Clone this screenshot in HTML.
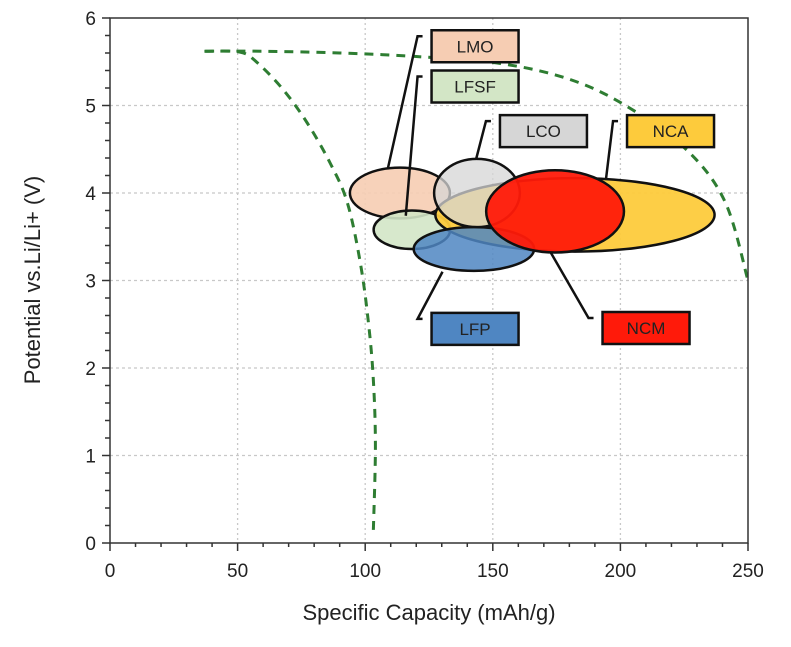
<!DOCTYPE html>
<html><head><meta charset="utf-8">
<style>
html,body{margin:0;padding:0;background:#fff;}
svg{display:block;font-family:"Liberation Sans",Arial,sans-serif;}
</style></head>
<body>
<svg id="chart" width="791" height="647" viewBox="0 0 791 647" xmlns="http://www.w3.org/2000/svg">
<g id="grid"></g>
<g id="curves"></g>
<g id="ellipses"></g>
<g id="leaders"></g>
<g id="labels"></g>
<g id="axes"></g>
<text x="429" y="620" font-size="22" text-anchor="middle" fill="#222">Specific Capacity (mAh/g)</text>
<text transform="translate(40,280) rotate(-90)" font-size="22" text-anchor="middle" fill="#222">Potential vs.Li/Li+ (V)</text>
</svg>
<script>
const xTicks = [0, 50, 100, 150, 200, 250];
const yTicks = [0, 1, 2, 3, 4, 5, 6];
const materials = ["LMO", "LFSF", "NCA", "LCO", "LFP", "NCM"];
const centerCap = [113.6, 118.3, 182.2, 143.8, 142.6, 174.4];
const centerV = [4.0, 3.58, 3.75, 4.0, 3.36, 3.79];
const spanCap = [19.6, 15, 54.7, 16.8, 23.6, 27];
const spanV = [0.29, 0.22, 0.42, 0.39, 0.25, 0.47];
const fills = ["#f6cdb3", "#d3e6c6", "#fdcb3c", "#d6d6d6", "#4f86c2", "#ff1a0a"];
const opac = [0.9, 0.9, 0.95, 0.75, 0.85, 0.95];
// label box positions (data coords: left capacity, top voltage)
const labelCap = [126, 126, 202.6, 152.8, 126, 193];
const labelV = [5.86, 5.4, 4.89, 4.89, 2.63, 2.64];
// leader anchor points (data coords) where line touches ellipse
const anchorCap = [108.8, 115.9, 194.4, 143.4, 130.3, 172.7];
const anchorV = [4.27, 3.74, 4.17, 4.38, 3.1, 3.32];
const curve1Cap = [37.3, 51.0, 57.7, 67.9, 77.3, 86.3, 93.0, 98.1, 101.3, 103.2, 104.0, 103.2];
const curve1V = [5.62, 5.61, 5.49, 5.18, 4.80, 4.34, 3.89, 3.20, 2.51, 1.86, 1.10, 0.15];
const curve2Cap = [37, 60, 90, 120, 153, 180, 202, 225.7, 241, 250];
const curve2V = [5.62, 5.62, 5.6, 5.56, 5.48, 5.3, 5.0, 4.5, 3.9, 3.0];

const X0 = 110, X1 = 748, Y0 = 543, Y1 = 18;
const xs = v => X0 + (v - 0) / 250 * (X1 - X0);
const ys = v => Y0 - v / 6 * (Y0 - Y1);
const NS = "http://www.w3.org/2000/svg";
function mk(tag, parent, attrs) {
  const e = document.createElementNS(NS, tag);
  for (const k in attrs) e.setAttribute(k, attrs[k]);
  parent.appendChild(e);
  return e;
}
const grid = document.getElementById("grid");
xTicks.forEach(t => {
  if (t === 0 || t === 250) return;
  const l = mk("line", grid, {x1: xs(t), x2: xs(t), y1: Y1, y2: Y0, stroke: "#c8c8c8", "stroke-width": 1.3, "stroke-dasharray": "2,3"});
  
  
});
yTicks.forEach(t => {
  if (t === 0 || t === 6) return;
  const l = mk("line", grid, {x1: X0, x2: X1, y1: ys(t), y2: ys(t), stroke: "#c8c8c8", "stroke-width": 1.3, "stroke-dasharray": "3,3"});
  
  
});
const curves = document.getElementById("curves");
function curvePath(cx, cy) {
  let d = "M" + xs(cx[0]) + "," + ys(cy[0]);
  for (let i = 1; i < cx.length; i++) {
    const p0 = [xs(cx[i-1]), ys(cy[i-1])], p1 = [xs(cx[i]), ys(cy[i])];
    const pm = i > 1 ? [xs(cx[i-2]), ys(cy[i-2])] : p0;
    const pn = i < cx.length - 1 ? [xs(cx[i+1]), ys(cy[i+1])] : p1;
    const c1 = [p0[0] + (p1[0] - pm[0]) / 6, p0[1] + (p1[1] - pm[1]) / 6];
    const c2 = [p1[0] - (pn[0] - p0[0]) / 6, p1[1] - (pn[1] - p0[1]) / 6];
    d += " C" + c1.join(",") + " " + c2.join(",") + " " + p1.join(",");
  }
  return d;
}
const c1 = mk("path", curves, {d: curvePath(curve1Cap, curve1V), fill: "none", stroke: "#2e7d32", "stroke-width": 3, "stroke-dasharray": "9,7"});


const c2 = mk("path", curves, {d: curvePath(curve2Cap, curve2V), fill: "none", stroke: "#2e7d32", "stroke-width": 3, "stroke-dasharray": "9,7"});



const ell = document.getElementById("ellipses");
const lead = document.getElementById("leaders");
const labs = document.getElementById("labels");
const BW = 87, BH = 32;
materials.forEach((m, i) => {
  const e = mk("ellipse", ell, {cx: xs(centerCap[i]), cy: ys(centerV[i]), rx: xs(spanCap[i]) - X0, ry: Y0 - ys(spanV[i]), fill: fills[i], "fill-opacity": opac[i], stroke: "#111", "stroke-width": 2.5});
  
  
  const bx = xs(labelCap[i]), by = ys(labelV[i]);
  const ax = xs(anchorCap[i]), ay = ys(anchorV[i]);
  const my = by + 6;
  const pl = mk("polyline", lead, {points: (bx - 9) + "," + my + " " + (bx - 14) + "," + my + " " + ax + "," + ay, fill: "none", stroke: "#111", "stroke-width": 2.5});
  
  
  const r = mk("rect", labs, {x: bx, y: by, width: BW, height: BH, fill: fills[i], stroke: "#111", "stroke-width": 2.5});
  
  
  const t = mk("text", labs, {x: bx + BW / 2, y: by + BH / 2 + 6, "text-anchor": "middle", "font-size": 17, fill: "#222"});
  t.textContent = m;
  
  
});

const axes = document.getElementById("axes");
const fr = mk("rect", axes, {x: X0, y: Y1, width: X1 - X0, height: Y0 - Y1, fill: "none", stroke: "#333", "stroke-width": 1.5});


for (let v = 0; v <= 250; v += 10) {
  const major = v % 50 === 0;
  const tk = mk("line", axes, {x1: xs(v), x2: xs(v), y1: Y0, y2: Y0 + (major ? 8 : 4), stroke: "#333", "stroke-width": 1.5});
  
  
}
for (let k = 0; k <= 30; k++) {
  const v = k * 0.2, major = k % 5 === 0;
  const tk = mk("line", axes, {x1: X0 - (major ? 8 : 5), x2: X0, y1: ys(v), y2: ys(v), stroke: "#333", "stroke-width": 1.5});
  
  
}
xTicks.forEach(t => {
  const tx = mk("text", axes, {x: xs(t), y: Y0 + 34, "text-anchor": "middle", "font-size": 19, fill: "#222"});
  tx.textContent = t;
  
  
});
yTicks.forEach(t => {
  const tx = mk("text", axes, {x: X0 - 14, y: ys(t) + 7, "text-anchor": "end", "font-size": 19, fill: "#222"});
  tx.textContent = t;
  
  
});
</script>
</body></html>
